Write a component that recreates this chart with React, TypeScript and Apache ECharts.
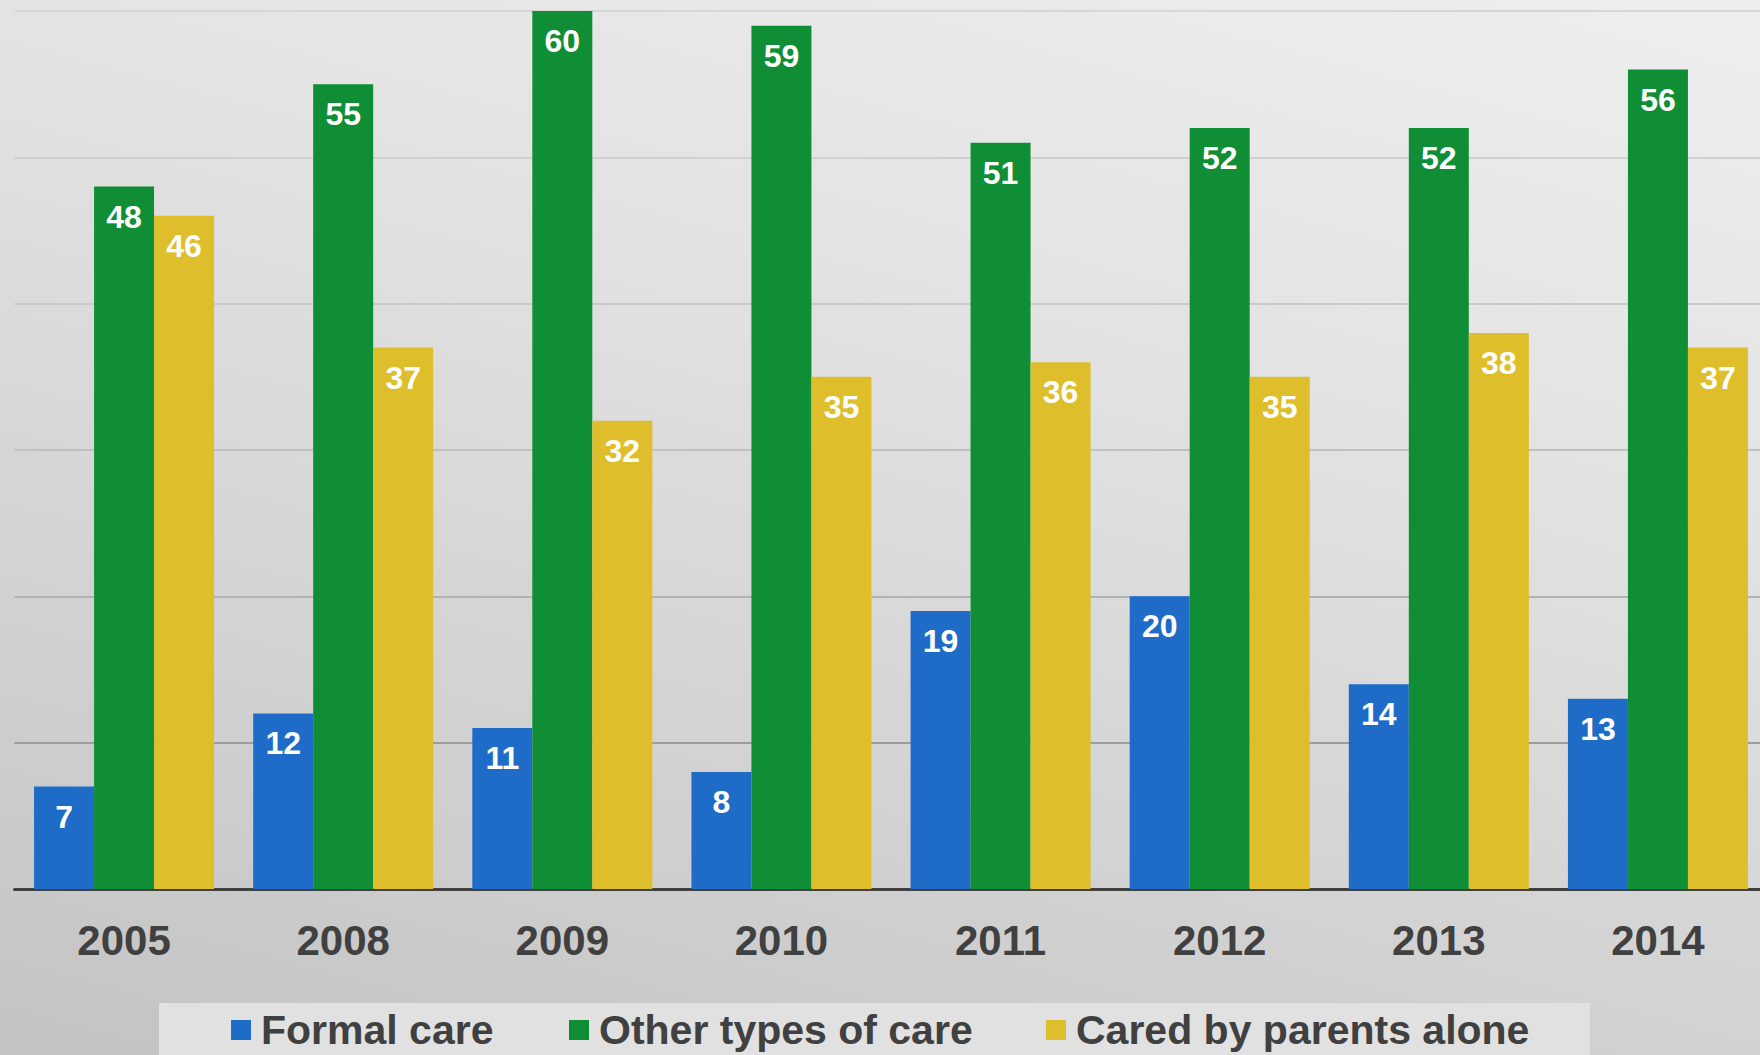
import React, { useEffect, useRef } from "react";
import * as echarts from "echarts";

const categories = ["2005", "2008", "2009", "2010", "2011", "2012", "2013", "2014"];
const formalCare = [7, 12, 11, 8, 19, 20, 14, 13];
const otherCare = [48, 55, 60, 59, 51, 52, 52, 56];
const parentsAlone = [46, 37, 32, 35, 36, 35, 38, 37];
const seriesNames = ["Formal care", "Other types of care", "Cared by parents alone"];
const seriesColors = ["#1e6cc8", "#0f8e35", "#dfbe2b"];

const FONT = "'Liberation Sans', Arial, Helvetica, sans-serif";

export default function App() {
  const ref = useRef<HTMLDivElement>(null);

  useEffect(() => {
    if (!ref.current) return;
    const chart = echarts.init(ref.current, undefined, { renderer: "svg" });
    const values = [formalCare, otherCare, parentsAlone];
    const legendLefts = [231, 569, 1046];

    const label = {
      show: true,
      position: "insideTop",
      distance: 14,
      color: "#ffffff",
      fontFamily: FONT,
      fontWeight: "bold",
      fontSize: 32,
    };

    chart.setOption({
      animation: false,
      backgroundColor: "transparent",
      grid: { left: 14.5, right: 12.5, top: 11, bottom: 166 },
      graphic: [
        {
          type: "rect",
          z: -1,
          shape: { x: 159, y: 1003, width: 1431, height: 60 },
          style: { fill: "#e1e1e1" },
        },
      ],
      legend: seriesNames.map((n, i) => ({
        data: [n],
        left: legendLefts[i],
        top: 1009,
        padding: 0,
        itemWidth: 20,
        itemHeight: 20,
        icon: "rect",
        selectedMode: false,
        textStyle: {
          fontFamily: FONT,
          fontWeight: "bold",
          fontSize: 41,
          lineHeight: 42,
          color: "#404040",
          padding: [0, 0, 0, 5],
        },
      })),
      xAxis: {
        type: "category",
        data: categories,
        axisTick: { show: false },
        axisLine: { show: true, lineStyle: { color: "#404040", width: 3 } },
        axisLabel: {
          margin: 30,
          fontFamily: FONT,
          fontWeight: "bold",
          fontSize: 42,
          color: "#404040",
        },
      },
      yAxis: {
        type: "value",
        min: 0,
        max: 60,
        interval: 10,
        axisLabel: { show: false },
        axisLine: { show: false },
        axisTick: { show: false },
        splitLine: {
          show: true,
          lineStyle: {
            width: 2,
            color: ["#a0a0a0", "#9c9c9c", "#b2b2b2", "#c0c0c0", "#c9c9c9", "#cfcfcf", "#d6d6d6"],
          },
        },
      },
      series: seriesNames.map((n, i) => ({
        name: n,
        type: "bar",
        data: values[i],
        barWidth: 60,
        barGap: "0%",
        itemStyle: { color: seriesColors[i] },
        label,
      })),
    });

    return () => chart.dispose();
  }, []);

  return (
    <div
      style={{
        position: "absolute",
        left: 0,
        top: 0,
        width: 1760,
        height: 1055,
        overflow: "hidden",
        background: "linear-gradient(195deg, #eeeeee 0%, #e2e2e2 35%, #c3c3c3 100%)",
      }}
    >
      <div ref={ref} style={{ width: 1780, height: 1055 }} />
    </div>
  );
}
